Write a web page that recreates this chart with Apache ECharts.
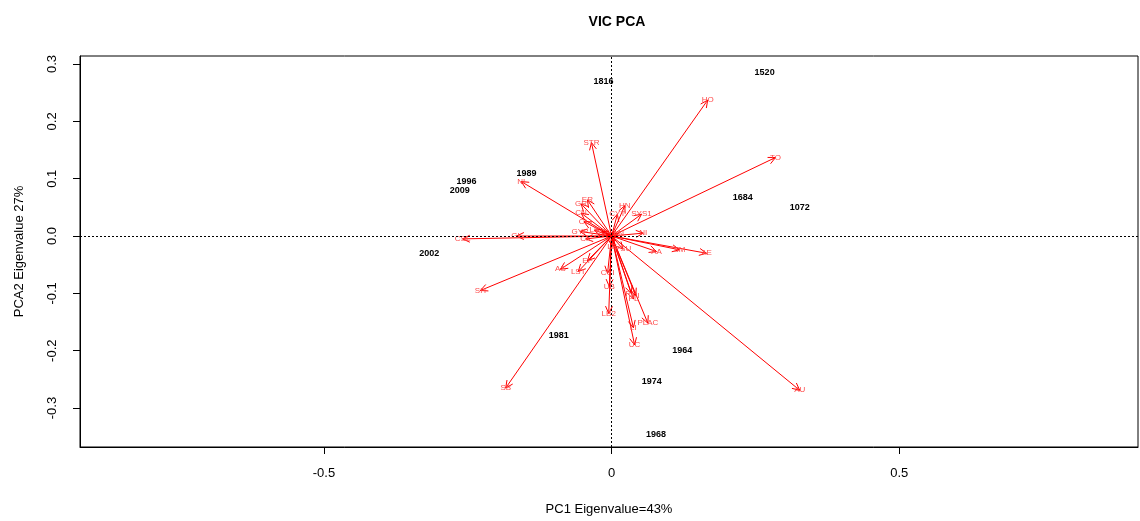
<!DOCTYPE html>
<html>
<head>
<meta charset="utf-8">
<script src="https://cdn.jsdelivr.net/npm/echarts@6/dist/echarts.min.js"></script>
<style>html,body{margin:0;padding:0;background:#fff}#c{width:1140px;height:521px}</style>
</head>
<body>
<div id="c"></div>
<script>
// Variable loadings (arrows)
const varNames = ['HO','TO','STR','NI','CSL','GL','SH','SB','AU','AS','LST','EF','CCI','UB','LB2','UC','LI','PLAC','PL','PD','PI','AE','SM','AA','PSU','NI','SYS1','HN','CYT','ER','GR','CN','CL','GYP','CK','LB','LC','LE','AN'];
const varPC1  = [0.167,0.285,-0.035,-0.157,-0.259,-0.165,-0.228,-0.184,0.327,-0.089,-0.058,-0.042,-0.007,-0.004,-0.005,0.040,0.038,0.063,0.038,0.034,0.042,0.165,0.118,0.078,0.020,0.055,0.052,0.023,0.010,-0.042,-0.053,-0.053,-0.048,-0.055,-0.045,-0.030,-0.018,0.001,0.012];
const varPC2  = [0.237,0.137,0.163,0.095,-0.005,0.000,-0.095,-0.265,-0.269,-0.058,-0.062,-0.043,-0.065,-0.088,-0.135,-0.190,-0.160,-0.152,-0.110,-0.100,-0.104,-0.030,-0.024,-0.027,-0.023,0.005,0.038,0.053,0.038,0.063,0.056,0.040,0.025,0.008,-0.005,0.010,0.008,-0.018,0.004];

// Site scores (year labels)
const yearLabels = ['1520','1816','1996','2009','1989','1684','1072','2002','1981','1964','1974','1968'];
const yearPC1 = [0.266,-0.014,-0.252,-0.264,-0.148,0.228,0.327,-0.317,-0.092,0.123,0.070,0.077];
const yearPC2 = [0.286,0.269,0.095,0.080,0.109,0.068,0.050,-0.031,-0.173,-0.199,-0.253,-0.347];

// Axis ticks
const xTicks = [-0.5, 0, 0.5];
const yTicks = [-0.3, -0.2, -0.1, 0, 0.1, 0.2, 0.3];

const chart = echarts.init(document.getElementById('c'), null, {renderer: 'canvas'});

const arrowData = varNames.map((n, i) => [varPC1[i], varPC2[i], n]);
const yearData = yearLabels.map((n, i) => [yearPC1[i], yearPC2[i], n]);

function renderArrow(params, api) {
  const o = api.coord([0, 0]);
  const t = api.coord([api.value(0), api.value(1)]);
  const ang = Math.atan2(t[1] - o[1], t[0] - o[0]);
  const len = 8, spread = 0.45;
  const a1 = ang + Math.PI - spread, a2 = ang + Math.PI + spread;
  const h1 = [t[0] + len * Math.cos(a1), t[1] + len * Math.sin(a1)];
  const h2 = [t[0] + len * Math.cos(a2), t[1] + len * Math.sin(a2)];
  return {
    type: 'group',
    children: [
      {type: 'line', shape: {x1: o[0], y1: o[1], x2: t[0], y2: t[1]}, style: {stroke: '#ff0000', lineWidth: 1}},
      {type: 'polyline', shape: {points: [h1, t, h2]}, style: {stroke: '#ff0000', lineWidth: 1, fill: null}},
      {type: 'text', x: t[0], y: t[1], style: {text: api.value(2), fill: '#ff4a4a', font: '8px "Liberation Sans"', align: 'center', verticalAlign: 'middle'}}
    ]
  };
}

function renderYear(params, api) {
  const p = api.coord([api.value(0), api.value(1)]);
  return {
    type: 'text', x: p[0], y: p[1],
    style: {text: api.value(2), fill: '#000', font: 'bold 9px "Liberation Sans"', align: 'center', verticalAlign: 'middle'}
  };
}

chart.setOption({
  animation: false,
  backgroundColor: '#fff',
  title: {
    text: 'VIC PCA', left: 612, top: 10, textAlign: 'center',
    textStyle: {fontFamily: 'Liberation Sans', fontWeight: 'bold', fontSize: 14, color: '#000'}
  },
  grid: {left: 80, right: 2, top: 56, bottom: 72, show: true, borderColor: '#000', borderWidth: 1, backgroundColor: 'transparent'},
  xAxis: {
    type: 'value', min: -0.924, max: 0.915,
    name: 'PC1 Eigenvalue=43%', nameLocation: 'middle', nameGap: 56,
    nameTextStyle: {fontFamily: 'Liberation Sans', fontSize: 13, color: '#000'},
    axisLine: {show: true, onZero: false, lineStyle: {color: '#000'}},
    axisTick: {show: true, length: 7, customValues: xTicks, lineStyle: {color: '#000'}},
    axisLabel: {customValues: xTicks, margin: 20, fontFamily: 'Liberation Sans', fontSize: 13, color: '#000',
      formatter: v => (v === 0 ? '0' : String(v))},
    splitLine: {show: false}
  },
  yAxis: {
    type: 'value', min: -0.368, max: 0.314,
    name: 'PCA2 Eigenvalue 27%', nameLocation: 'middle', nameGap: 54,
    nameTextStyle: {fontFamily: 'Liberation Sans', fontSize: 13, color: '#000'},
    axisLine: {show: true, onZero: false, lineStyle: {color: '#000'}},
    axisTick: {show: true, length: 7, customValues: yTicks, lineStyle: {color: '#000'}},
    axisLabel: {customValues: yTicks, margin: 21, rotate: 90, fontFamily: 'Liberation Sans', fontSize: 13, color: '#000',
      formatter: v => (v === 0 ? '0.0' : v.toFixed(1))},
    splitLine: {show: false}
  },
  series: [
    {
      type: 'line', data: [], silent: true,
      markLine: {
        silent: true, symbol: 'none', label: {show: false},
        lineStyle: {type: [2, 2], color: '#000', width: 1},
        data: [{xAxis: 0}, {yAxis: 0}]
      }
    },
    {type: 'custom', data: arrowData, renderItem: renderArrow, silent: true, clip: true},
    {type: 'custom', data: yearData, renderItem: renderYear, silent: true}
  ]
});
</script>
</body>
</html>
